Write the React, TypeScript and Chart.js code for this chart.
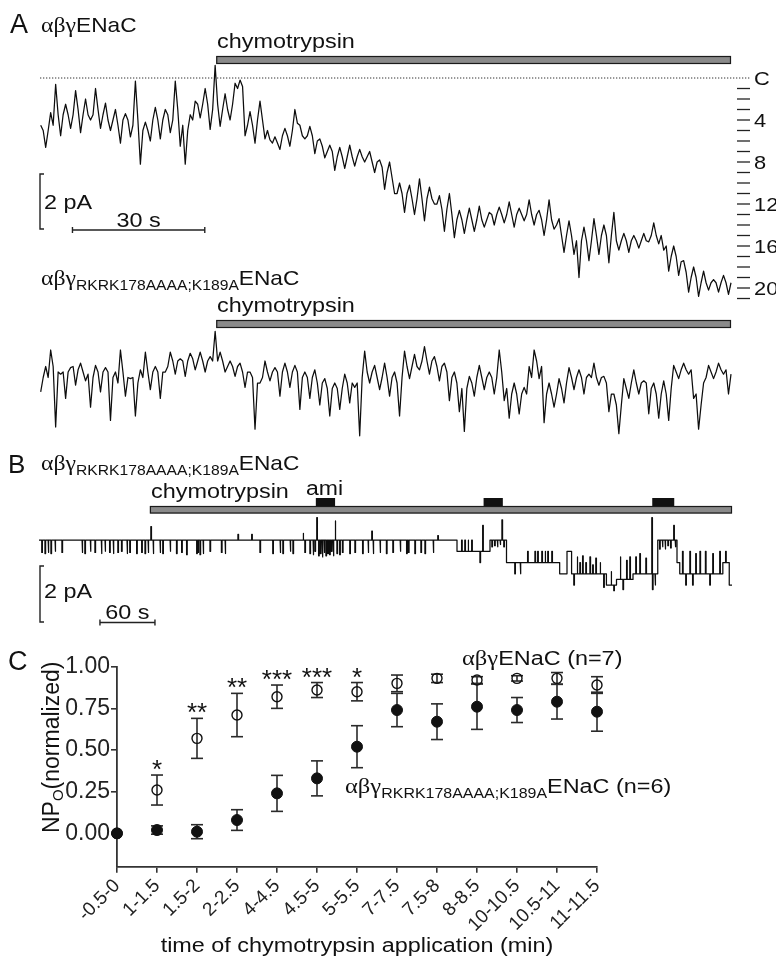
import React, { useEffect, useRef } from "react";
import { Chart, registerables } from "chart.js";

Chart.register(...registerables);

const SANS = '"Liberation Sans", Arial, Helvetica, sans-serif';
const SERIF = '"Liberation Serif", "Times New Roman", serif';
Chart.defaults.font.family = SANS;

// ---------------- Panel A (single-channel traces, in open-channel levels) ----------------
const A_DT = 1.13; // seconds between read samples
const A_CHYMO_START = 39.8; // s
const A_SCALE_T0 = 7.2; // s
const A_SCALE_SEC = 30;
const SCALE_PA = 2;
const A1_UNIT_PA = 0.382; // pA per channel level
const A2_UNIT_PA = 0.4;

// excursion (peak) levels read every sample
const aWtLevels = [
  4.5, 6.6, 3.3, 0.6, 5.5, 2.5, 4.8, 1.2, 5.2, 2.0,
  4.0, 1.0, 4.8, 2.4, 5.0, 3.0, 6.2, 3.4, 5.6, 0.3,
  8.2, 4.2, 6.0, 2.8, 5.8, 3.0, 5.2, 0.3, 6.5, 8.2,
  3.5, 2.2, 3.8, 1.0, 4.9, -1.2, 4.6, 1.5, 4.0, 0.5,
  0.2, 5.5, 3.2, 6.2, 2.2, 5.8, 5.9, 5.6, 6.8, 4.8,
  6.5, 3.0, 4.5, 5.8, 4.6, 7.2, 5.8, 7.6, 6.4, 8.8,
  6.6, 8.6, 6.4, 8.4, 6.8, 8.0, 7.0, 9.0, 7.8, 10.6,
  8.0, 11.0, 10.0, 12.8, 10.2, 13.0, 9.6, 13.6, 10.4, 12.0,
  11.2, 14.6, 11.0, 15.2, 12.6, 14.8, 12.4, 14.6, 12.2, 14.2,
  12.8, 14.0, 12.3, 13.8, 11.8, 14.2, 12.4, 13.6, 11.6, 14.0,
  12.6, 15.0, 11.6, 14.4, 13.4, 16.6, 13.6, 16.8, 19.0, 14.2,
  17.4, 13.4, 16.8, 14.0, 17.6, 12.8, 16.4, 14.8, 16.6, 15.0,
  16.2, 14.8, 15.6, 13.8, 15.8, 16.4, 18.4, 16.0, 18.8, 17.4,
  20.4, 18.0, 20.8, 18.4, 20.2, 19.2, 20.4, 18.8, 20.6,
];
// dominant (core) level read between samples
const aWtCore = [
  5, 5, 4.5, 3.5, 3.5, 3.5, 3.5, 3, 3.5, 3.5, 3.5,
  3, 3.5, 4, 4, 4.5, 4, 4, 4.5, 4,
  5, 5, 4, 4, 4, 3.5, 4,
  3, 4.5, 5, 4, 2.5, 2.5, 2.5, 3, 2.5,
  3, 3, 2.5, 1, 0.8,
  4.5, 4.5, 4, 4, 5, 6.2,
  6.2, 5.5, 5.5, 5, 4.3,
  5.5, 5.5, 5.5, 6, 6.5, 7, 7,
  7.5, 7.5, 7.5, 7.5, 7.5, 7.5, 7.5, 8, 8,
  8.5, 9, 9.5, 11, 11, 11, 11.5, 11.5, 11.5,
  11.5, 11.5, 12, 12.5, 12.5, 13, 13.5, 13.5, 13.5,
  13.5, 13.5, 13.5, 13.5, 13, 13, 13, 13, 13,
  13, 13, 13, 13, 13, 13.5, 13.5, 13.5, 14,
  15, 15, 15, 15.5, 15.5, 15.5, 15.5, 15, 15,
  15, 15, 15.5, 15.5, 15.5, 15.5, 15.5, 15.5, 15.5,
  15, 15, 15, 16, 17, 17, 17.5, 18.5, 19,
  19, 19.5, 19.5, 19.5, 19.5, 19.5, 19.5, 19.5,
];

const aMutLevels = [
  3.8, 1.5, 0.0, 7.0, 2.2, 4.4, 1.6, 3.2, 1.2, 2.8,
  5.2, 1.4, 3.8, 1.6, 6.4, 2.0, 0.0, 4.2, 2.6, 6.0,
  1.8, 0.2, 3.6, 1.5, 4.4, 2.0, 0.2, 2.2, 0.8, 2.4,
  0.3, 1.8, 0.2, 2.0, 0.6, -1.7, 0.2, 2.0, 1.0, 2.4,
  1.2, 3.4, 2.0, 7.2, 3.0, 1.0, 2.8, 1.6, 4.2, 1.2,
  3.4, 1.4, 5.4, 2.0, 4.4, 1.8, 5.0, 2.6, 6.0, 3.0,
  5.4, 2.2, 4.8, 3.4, 7.8, 0.1, 3.0, 1.4, 3.6, 1.2,
  4.2, 2.0, 6.0, 0.1, 2.6, 0.4, 1.8, -0.3, 2.2, 0.6,
  2.8, 1.2, 4.6, 2.0, 5.6, 7.4, 2.4, 4.2, 1.4, 3.6,
  2.0, 4.0, 0.0, 4.6, 6.2, 3.0, 5.8, 3.4, 1.5, 0.0,
  2.6, 6.6, 3.0, 5.2, 2.6, 4.8, 1.6, 3.6, 1.8, 4.0,
  2.2, 1.2, 3.2, 2.4, 5.6, 4.0, 7.6, 2.6, 4.4, 1.8,
  4.0, 2.8, 5.8, 3.0, 6.2, 2.8, 6.4, 1.4, 2.6, 1.2,
  2.2, 4.4, 7.2, 3.0, 1.4, 2.6, 1.2, 2.2, 4.0,
];
const aMutCore = [
  2.5, 2.5, 1.5, 2, 2, 2, 1.5, 1.8, 2, 2.2, 2.5,
  2, 2, 2, 2.5, 3, 2, 2.5, 2.5, 3,
  2.5, 2, 2, 2, 2, 1.5, 1,
  1, 1, 1, 0.8, 1, 1, 1, 1, 1,
  1, 1.5, 1.5, 1.5, 2,
  2, 2.5, 3, 2.5, 2, 2,
  2, 2, 2, 2, 2,
  2.5, 2.5, 2.5, 3, 3, 3.5, 3.5,
  3.5, 3.5, 3, 3, 3, 2.5, 2, 2, 2.5,
  2.5, 2.5, 2.5, 3, 2.5, 1.5, 1.5, 1.5, 1,
  1, 1, 1.5, 1.5, 2, 2.5, 3, 3.5, 3.5,
  3, 2.5, 2.5, 2.5, 2.5, 2.5, 2, 3.5, 4,
  4, 4, 4, 2.5, 1, 1.5, 4, 4, 4,
  3.5, 3, 2.5, 2.5, 2.5, 2.5, 2.5, 2.5, 2.5,
  3, 4, 5, 5, 3.5, 3, 3, 3, 3,
  3.5, 4, 4, 4, 3.5, 2, 1.8, 1.8, 1.8,
  4, 5, 2.5, 2, 2, 1.8, 1.8, 2.2,
];

const a1TickLevels = [1, 2, 3, 4, 5, 6, 7, 8, 9, 10, 11, 12, 13, 14, 15, 16, 17, 18, 19, 20, 21];
const a1LabelLevels = [0, 4, 8, 12, 16, 20];
const a2TickLevels = [1, 2, 3, 4, 5, 6, 7];
const a2LabelLevels = [0, 2, 4, 6];

// ---------------- Panel B (long recording) ----------------
const B_END = 756; // s
const B_CHYMO = [121, 756];
const B_AMI_START = [302, 485, 669];
const B_AMI_END = [323, 506, 693];
const B_SPIKE_W = 0.7;
const B_UNIT_PA = 0.402;
const B_SCALE_T0 = 66.5;
const B_SCALE_SEC = 60;
const bBaseT = [0, 456, 492, 510, 568, 576, 581, 619, 630, 648, 675, 696, 699, 746, 753];
const bBaseL = [0, 1, 0, 2, 3, 1, 3, 4, 3.5, 3, 0, 2, 3, 2, 4];
const bSpikeT = [
  3, 6.5, 10, 13, 17.5, 25, 47, 50, 56, 61,
  68, 72, 77, 81, 86, 90, 96, 99, 106.5, 112,
  115.6, 119, 122, 124.5, 132, 135, 143, 150, 155.6, 161,
  172, 173.5, 175.6, 179, 186.5, 199, 203, 217, 232, 241,
  255, 263, 266, 274, 277, 288, 290, 295.5, 299, 301,
  303, 305, 307, 309, 311, 313, 315, 317, 319, 321,
  323, 325, 328, 331, 339, 344.6, 353, 359, 363, 364.5,
  372, 379, 386, 394, 401, 403, 410, 416.6, 421, 430,
  435, 461, 464.5, 468, 472, 481, 484, 494, 497, 500,
  503, 505, 507, 519, 525, 533, 541, 544, 548.5, 552,
  555, 559.4, 583.4, 587, 590, 593, 596.5, 601, 604, 607.4,
  612, 616, 624, 627, 634, 637, 641, 644.5, 651, 655.4,
  662, 668.5, 669.2, 672, 677, 680, 683, 686, 689, 692.4,
  694, 702, 705.5, 710, 713, 716.4, 721, 727, 731.7, 735,
  742.6, 749,
];
const bSpikeL = [
  1.1, 1.2, 1.1, 1.2, 1.0, 1.1, 1.1, 1.2, 1.0, 1.1,
  1.2, 1.0, 1.1, 1.2, 1.1, 1.0, 1.2, 1.1, 1.2, 1.1,
  1.2, 1.1, -1.2, 1.2, 1.1, 1.2, 1.0, 1.2, 1.1, 1.3,
  1.2, 1.1, 1.3, 1.2, 1.0, 1.1, 1.2, -0.5, -0.5, 1.1,
  1.2, 1.1, 1.2, 1.0, 1.2, -0.6, 1.1, 1.2, 1.3, 1.0,
  -2.0, 1.4, 1.2, 1.5, 1.1, 1.4, 1.2, 1.3, 1.0, 1.4,
  -1.7, 1.2, 1.3, 1.1, 1.2, 1.1, 1.2, 1.1, -0.8, 1.2,
  1.1, 1.2, 1.1, 1.0, 1.2, 1.1, 1.2, 1.1, 1.2, 1.1,
  -0.4, 0, 0, 0, 0, 2.0, -1.3, 0.6, 0.5, 0.6,
  0.4, -1.8, 0.6, 3, 3, 1, 1, 1, 1, 1,
  1, 1, 4, 1.5, 2, 1.4, 2, 1.5, 2.2, 1.6,
  2, 4.2, 2.8, 4.5, 1.5, 4.4, 1.8, 1.5, 1.5, 1.2,
  1.6, -2.0, 4.4, 4, 0.8, 0.6, 0.8, 0.5, 0.7, -1.3,
  0.6, 1, 4, 1, 4, 1.2, 1, 1, 4, 1.2,
  1, 1,
];
const bTickLevels = [0, 1, 2, 3, 4];
const bLabelLevels = [0, 2, 4];

// ---------------- Panel C (NPo summary) ----------------
const cCategories = [
  "-0.5-0", "1-1.5", "1.5-2", "2-2.5", "4-4.5", "4.5-5", "5-5.5",
  "7-7.5", "7.5-8", "8-8.5", "10-10.5", "10.5-11", "11-11.5",
];
const wtMean = [0, 0.26, 0.57, 0.71, 0.82, 0.86, 0.85, 0.9, 0.93, 0.92, 0.93, 0.93, 0.89];
const wtSem = [0, 0.09, 0.12, 0.13, 0.07, 0.045, 0.055, 0.05, 0.025, 0.02, 0.016, 0.035, 0.05];
const mutMean = [0, 0.02, 0.01, 0.08, 0.24, 0.33, 0.52, 0.74, 0.67, 0.76, 0.74, 0.79, 0.73];
const mutSem = [0, 0.025, 0.042, 0.062, 0.108, 0.105, 0.126, 0.1, 0.107, 0.136, 0.075, 0.104, 0.117];
const cStars = ["", "*", "**", "**", "***", "***", "*", "", "", "", "", "", ""];
const cYTicks = [0, 0.25, 0.5, 0.75, 1.0];

// ---------------- helpers ----------------
type Run = { t: string; size: number; serif?: boolean; dy?: number; sx?: number };

function drawRuns(
  ctx: CanvasRenderingContext2D,
  x: number,
  y: number,
  runs: Run[],
  sxDef = 1.17,
  align: "left" | "center" = "left",
  color = "#111"
) {
  ctx.save();
  ctx.textBaseline = "alphabetic";
  ctx.textAlign = "left";
  ctx.fillStyle = color;
  const widths = runs.map((r) => {
    ctx.font = `${r.size}px ${r.serif ? SERIF : SANS}`;
    return ctx.measureText(r.t).width * (r.sx ?? sxDef);
  });
  const total = widths.reduce((a, b) => a + b, 0);
  let cx = align === "center" ? x - total / 2 : x;
  runs.forEach((r, i) => {
    ctx.font = `${r.size}px ${r.serif ? SERIF : SANS}`;
    ctx.save();
    ctx.translate(cx, y + (r.dy ?? 0));
    ctx.scale(r.sx ?? sxDef, 1);
    ctx.fillText(r.t, 0, 0);
    ctx.restore();
    cx += widths[i];
  });
  ctx.restore();
}

function line(ctx: CanvasRenderingContext2D, x0: number, y0: number, x1: number, y1: number) {
  ctx.beginPath();
  ctx.moveTo(x0, y0);
  ctx.lineTo(x1, y1);
  ctx.stroke();
}

function drawLevelTicks(
  ctx: CanvasRenderingContext2D,
  ys: any,
  ticks: number[],
  labels: number[],
  x0: number,
  x1: number,
  xl: number
) {
  ctx.save();
  ctx.strokeStyle = "#222";
  ctx.lineWidth = 1.3;
  ticks.forEach((l) => {
    const y = ys.getPixelForValue(l);
    line(ctx, x0, y, x1, y);
  });
  ctx.restore();
  labels.forEach((l) =>
    drawRuns(ctx, xl, ys.getPixelForValue(l) + 6.8, [{ t: l === 0 ? "C" : String(l), size: 19 }], 1.15)
  );
}

function drawBar(ctx: CanvasRenderingContext2D, xs: any, t0: number, t1: number, yTop: number, h: number, fill: string, stroke: boolean) {
  const x0 = xs.getPixelForValue(t0);
  const x1 = xs.getPixelForValue(t1);
  ctx.save();
  ctx.fillStyle = fill;
  ctx.fillRect(x0, yTop, x1 - x0, h);
  if (stroke) {
    ctx.strokeStyle = "#1a1a1a";
    ctx.lineWidth = 1.2;
    ctx.strokeRect(x0 + 0.5, yTop + 0.5, x1 - x0 - 1, h - 1);
  }
  ctx.restore();
}

function drawDotted(ctx: CanvasRenderingContext2D, ys: any, x0: number, x1: number) {
  const y = ys.getPixelForValue(0);
  ctx.save();
  ctx.strokeStyle = "#333";
  ctx.lineWidth = 1;
  ctx.setLineDash([1.3, 1.7]);
  line(ctx, x0, y, x1, y);
  ctx.restore();
}

function drawVScale(ctx: CanvasRenderingContext2D, ys: any, x: number, yTop: number, levels: number) {
  const len = Math.abs(ys.getPixelForValue(levels) - ys.getPixelForValue(0));
  ctx.save();
  ctx.strokeStyle = "#222";
  ctx.lineWidth = 1.4;
  ctx.beginPath();
  ctx.moveTo(x + 4, yTop);
  ctx.lineTo(x, yTop);
  ctx.lineTo(x, yTop + len);
  ctx.lineTo(x + 4, yTop + len);
  ctx.stroke();
  ctx.restore();
}

function drawHScale(ctx: CanvasRenderingContext2D, xs: any, t0: number, sec: number, y: number) {
  const x0 = xs.getPixelForValue(t0);
  const x1 = xs.getPixelForValue(t0 + sec);
  ctx.save();
  ctx.strokeStyle = "#222";
  ctx.lineWidth = 1.4;
  line(ctx, x0, y, x1, y);
  line(ctx, x0, y - 3, x0, y + 3);
  line(ctx, x1, y - 3, x1, y + 3);
  ctx.restore();
  return (x0 + x1) / 2;
}

type TraceCfg = {
  top: number;
  points: { x: number; y: number }[];
  xMax: number;
  yMin: number;
  yMax: number;
  pad: { left: number; right: number; top: number; bottom: number };
  deco: (ctx: CanvasRenderingContext2D, xs: any, ys: any) => void;
};

function makeTrace(canvas: HTMLCanvasElement, cfg: TraceCfg) {
  return new Chart(canvas, {
    type: "line",
    data: {
      datasets: [
        {
          data: cfg.points,
          borderColor: "#0d0d0d",
          borderWidth: 1.25,
          borderJoinStyle: "round",
          pointRadius: 0,
          tension: 0,
          clip: false,
        } as any,
      ],
    },
    options: {
      animation: false,
      responsive: false,
      devicePixelRatio: 1,
      events: [],
      layout: { padding: cfg.pad },
      plugins: { legend: { display: false }, tooltip: { enabled: false } },
      scales: {
        x: { type: "linear", display: false, min: 0, max: cfg.xMax },
        y: { type: "linear", display: false, min: cfg.yMin, max: cfg.yMax, reverse: true },
      },
    },
    plugins: [
      {
        id: "traceDeco",
        beforeDatasetsDraw(chart: any) {
          const ctx = chart.ctx as CanvasRenderingContext2D;
          ctx.save();
          ctx.translate(0, -cfg.top);
          cfg.deco(ctx, chart.scales.x, chart.scales.y);
          ctx.restore();
        },
      },
    ],
  });
}

// interleave the read peak levels with the read dominant levels
function buildA(peaks: number[], core: number[]) {
  const pts: { x: number; y: number }[] = [];
  peaks.forEach((v, i) => {
    pts.push({ x: i * A_DT, y: v });
    pts.push({ x: (i + 0.5) * A_DT, y: core[i] });
  });
  return pts;
}

function buildB() {
  const spikes = bSpikeT.map((t, i) => ({ t, l: bSpikeL[i] })).sort((a, b) => a.t - b.t);
  const pts: { x: number; y: number }[] = [];
  for (let s = 0; s < bBaseT.length; s++) {
    const t0 = bBaseT[s];
    const t1 = s + 1 < bBaseT.length ? bBaseT[s + 1] : B_END;
    const L = bBaseL[s];
    pts.push({ x: t0, y: L });
    spikes
      .filter((p) => p.t >= t0 && p.t < t1)
      .forEach((p) => {
        pts.push({ x: p.t, y: L }, { x: p.t, y: p.l }, { x: p.t + B_SPIKE_W, y: p.l }, { x: p.t + B_SPIKE_W, y: L });
      });
    pts.push({ x: t1, y: L });
  }
  return pts;
}

const GRAY = "#8a8a8a";

export default function App() {
  const a1Ref = useRef<HTMLCanvasElement>(null);
  const a2Ref = useRef<HTMLCanvasElement>(null);
  const bRef = useRef<HTMLCanvasElement>(null);
  const cRef = useRef<HTMLCanvasElement>(null);

  useEffect(() => {
    const charts: Chart[] = [];
    const aXMax = (aWtLevels.length - 0.5) * A_DT;

    // A1
    charts.push(
      makeTrace(a1Ref.current!, {
        top: 0,
        points: buildA(aWtLevels, aWtCore),
        xMax: aXMax,
        yMin: -4,
        yMax: 22,
        pad: { left: 40.7, right: 45, top: 36, bottom: 1 },
        deco: (ctx, xs, ys) => {
          drawRuns(ctx, 10, 33, [{ t: "A", size: 27, sx: 1 }]);
          drawRuns(ctx, 41, 32, [{ t: "αβγ", size: 22, serif: true }, { t: "ENaC", size: 21 }], 1.08);
          drawRuns(ctx, 217, 48, [{ t: "chymotrypsin", size: 20 }]);
          drawBar(ctx, xs, A_CHYMO_START, aXMax, 56, 8, GRAY, true);
          drawDotted(ctx, ys, 40, 750);
          drawLevelTicks(ctx, ys, a1TickLevels, a1LabelLevels, 737, 750, 754);
          drawVScale(ctx, ys, 40, 174, SCALE_PA / A1_UNIT_PA);
          drawRuns(ctx, 44, 208.5, [{ t: "2 pA", size: 20 }]);
          const cx = drawHScale(ctx, xs, A_SCALE_T0, A_SCALE_SEC, 230);
          drawRuns(ctx, cx, 226.5, [{ t: "30 s", size: 20 }], 1.17, "center");
        },
      })
    );

    // A2
    charts.push(
      makeTrace(a2Ref.current!, {
        top: 262,
        points: buildA(aMutLevels, aMutCore),
        xMax: aXMax,
        yMin: -5,
        yMax: 9,
        pad: { left: 40.7, right: 45, top: 33, bottom: 1 },
        deco: (ctx, xs, ys) => {
          drawRuns(
            ctx,
            41,
            285,
            [
              { t: "αβγ", size: 22, serif: true },
              { t: "RKRK178AAAA;K189A", size: 14.5, dy: 5 },
              { t: "ENaC", size: 21 },
            ],
            1.08
          );
          drawRuns(ctx, 217, 312, [{ t: "chymotrypsin", size: 20 }]);
          drawBar(ctx, xs, A_CHYMO_START, aXMax, 320, 8, GRAY, true);
          drawDotted(ctx, ys, 40, 750);
          drawLevelTicks(ctx, ys, a2TickLevels, a2LabelLevels, 737, 750, 754);
        },
      })
    );

    // B
    charts.push(
      makeTrace(bRef.current!, {
        top: 450,
        points: buildB(),
        xMax: B_END,
        yMin: -4,
        yMax: 8,
        pad: { left: 39, right: 44, top: 45, bottom: 10 },
        deco: (ctx, xs, ys) => {
          drawRuns(ctx, 8, 473, [{ t: "B", size: 26, sx: 1 }]);
          drawRuns(
            ctx,
            41,
            470,
            [
              { t: "αβγ", size: 22, serif: true },
              { t: "RKRK178AAAA;K189A", size: 14.5, dy: 5 },
              { t: "ENaC", size: 21 },
            ],
            1.08
          );
          drawRuns(ctx, 151, 498, [{ t: "chymotrypsin", size: 20 }]);
          drawRuns(ctx, 306, 495, [{ t: "ami", size: 20 }], 1.15);
          drawBar(ctx, xs, B_CHYMO[0], B_CHYMO[1], 506, 7.5, GRAY, true);
          B_AMI_START.forEach((t0, i) => drawBar(ctx, xs, t0, B_AMI_END[i], 498, 8, "#111", false));
          drawLevelTicks(ctx, ys, bTickLevels, bLabelLevels, 738, 751, 755);
          drawVScale(ctx, ys, 40, 566, SCALE_PA / B_UNIT_PA);
          drawRuns(ctx, 44, 598, [{ t: "2 pA", size: 20 }]);
          const cx = drawHScale(ctx, xs, B_SCALE_T0, B_SCALE_SEC, 622.5);
          drawRuns(ctx, cx, 619, [{ t: "60 s", size: 20 }], 1.17, "center");
        },
      })
    );

    // C
    const C_TOP = 620;
    const errPlugin = {
      id: "errBars",
      beforeDatasetsDraw(chart: any) {
        const ctx = chart.ctx as CanvasRenderingContext2D;
        const ys = chart.scales.y;
        const sems = [mutSem, wtSem];
        const means = [mutMean, wtMean];
        ctx.save();
        ctx.strokeStyle = "#2a2a2a";
        ctx.lineWidth = 1.6;
        [0, 1].forEach((d) => {
          const meta = chart.getDatasetMeta(d);
          means[d].forEach((m, i) => {
            const s = sems[d][i];
            if (!s) return;
            const x = meta.data[i].x;
            const y0 = ys.getPixelForValue(m + s);
            const y1 = ys.getPixelForValue(m - s);
            line(ctx, x, y0, x, y1);
            line(ctx, x - 6, y0, x + 6, y0);
            line(ctx, x - 6, y1, x + 6, y1);
          });
        });
        ctx.restore();
      },
      afterDraw(chart: any) {
        const ctx = chart.ctx as CanvasRenderingContext2D;
        const ys = chart.scales.y;
        const meta = chart.getDatasetMeta(1);
        // significance stars
        ctx.save();
        ctx.font = `26px ${SANS}`;
        ctx.fillStyle = "#111";
        ctx.textAlign = "center";
        ctx.textBaseline = "alphabetic";
        cStars.forEach((st, i) => {
          if (!st) return;
          const x = meta.data[i].x;
          const capY = ys.getPixelForValue(wtMean[i] + wtSem[i]);
          const mt = ctx.measureText(st);
          const desc = mt.actualBoundingBoxDescent;
          ctx.fillText(st, x, capY - 5 - desc);
        });
        ctx.restore();

        ctx.save();
        ctx.translate(0, -C_TOP);
        drawRuns(ctx, 8, 670, [{ t: "C", size: 27, sx: 1 }]);
        drawRuns(ctx, 462, 665, [{ t: "αβγ", size: 21, serif: true }, { t: "ENaC (n=7)", size: 20 }], 1.17);
        drawRuns(
          ctx,
          345,
          793,
          [
            { t: "αβγ", size: 21, serif: true },
            { t: "RKRK178AAAA;K189A", size: 14.5, dy: 5, sx: 1.1 },
            { t: "ENaC (n=6)", size: 20 },
          ],
          1.17
        );
        drawRuns(ctx, 357, 952, [{ t: "time of chymotrypsin application (min)", size: 20 }], 1.17, "center");
        // y title rotated
        ctx.save();
        ctx.translate(58.5, 833);
        ctx.rotate(-Math.PI / 2);
        drawRuns(ctx, 0, 0, [
          { t: "NP", size: 23, sx: 1 },
          { t: "O", size: 15, dy: 4, sx: 1 },
          { t: "(normalized)", size: 23, sx: 1 },
        ]);
        ctx.restore();
        ctx.restore();
      },
    };

    charts.push(
      new Chart(cRef.current!, {
        type: "line",
        data: {
          labels: cCategories,
          datasets: [
            {
              data: mutMean,
              showLine: false,
              pointRadius: 5.5,
              pointHoverRadius: 5.5,
              pointBackgroundColor: "#111",
              pointBorderColor: "#111",
              pointBorderWidth: 1,
              clip: false,
            } as any,
            {
              data: wtMean,
              showLine: false,
              pointRadius: 5,
              pointHoverRadius: 5,
              pointBackgroundColor: "rgba(0,0,0,0)",
              pointBorderColor: "#111",
              pointBorderWidth: 1.4,
              clip: false,
            } as any,
          ],
        },
        options: {
          animation: false,
          responsive: false,
          devicePixelRatio: 1,
          events: [],
          layout: { padding: { left: 0, right: 179, top: 46.7, bottom: 0 } },
          plugins: { legend: { display: false }, tooltip: { enabled: false } },
          scales: {
            x: {
              type: "category",
              offset: false,
              grid: { drawOnChartArea: false, drawTicks: true, tickLength: 6, color: "#333", lineWidth: 1.6 },
              border: { color: "#333", width: 1.8 },
              ticks: { autoSkip: false, maxRotation: 45, minRotation: 45, font: { size: 19 }, color: "#222", padding: 2 },
              afterFit: (s: any) => {
                s.height = 91.3;
              },
            },
            y: {
              type: "linear",
              min: -0.2,
              max: 1.0,
              afterBuildTicks: (s: any) => {
                s.ticks = cYTicks.map((v) => ({ value: v }));
              },
              grid: { drawOnChartArea: false, drawTicks: true, tickLength: 6, color: "#333", lineWidth: 1.6 },
              border: { color: "#333", width: 1.8 },
              ticks: {
                font: { size: 23 },
                color: "#222",
                padding: 1,
                callback: (v: any) => Number(v).toFixed(2),
              },
              afterFit: (s: any) => {
                s.width = 117;
              },
            },
          },
        } as any,
        plugins: [errPlugin],
      })
    );

    return () => charts.forEach((c) => c.destroy());
  }, []);

  const cv = (top: number): React.CSSProperties => ({ position: "absolute", left: 0, top });

  return (
    <div style={{ position: "absolute", left: 0, top: 0, width: 776, height: 958, background: "#fff", overflow: "hidden" }}>
      <canvas ref={a1Ref} width={776} height={310} style={cv(0)} />
      <canvas ref={a2Ref} width={776} height={188} style={cv(262)} />
      <canvas ref={bRef} width={776} height={190} style={cv(450)} />
      <canvas ref={cRef} width={776} height={338} style={cv(620)} />
    </div>
  );
}
